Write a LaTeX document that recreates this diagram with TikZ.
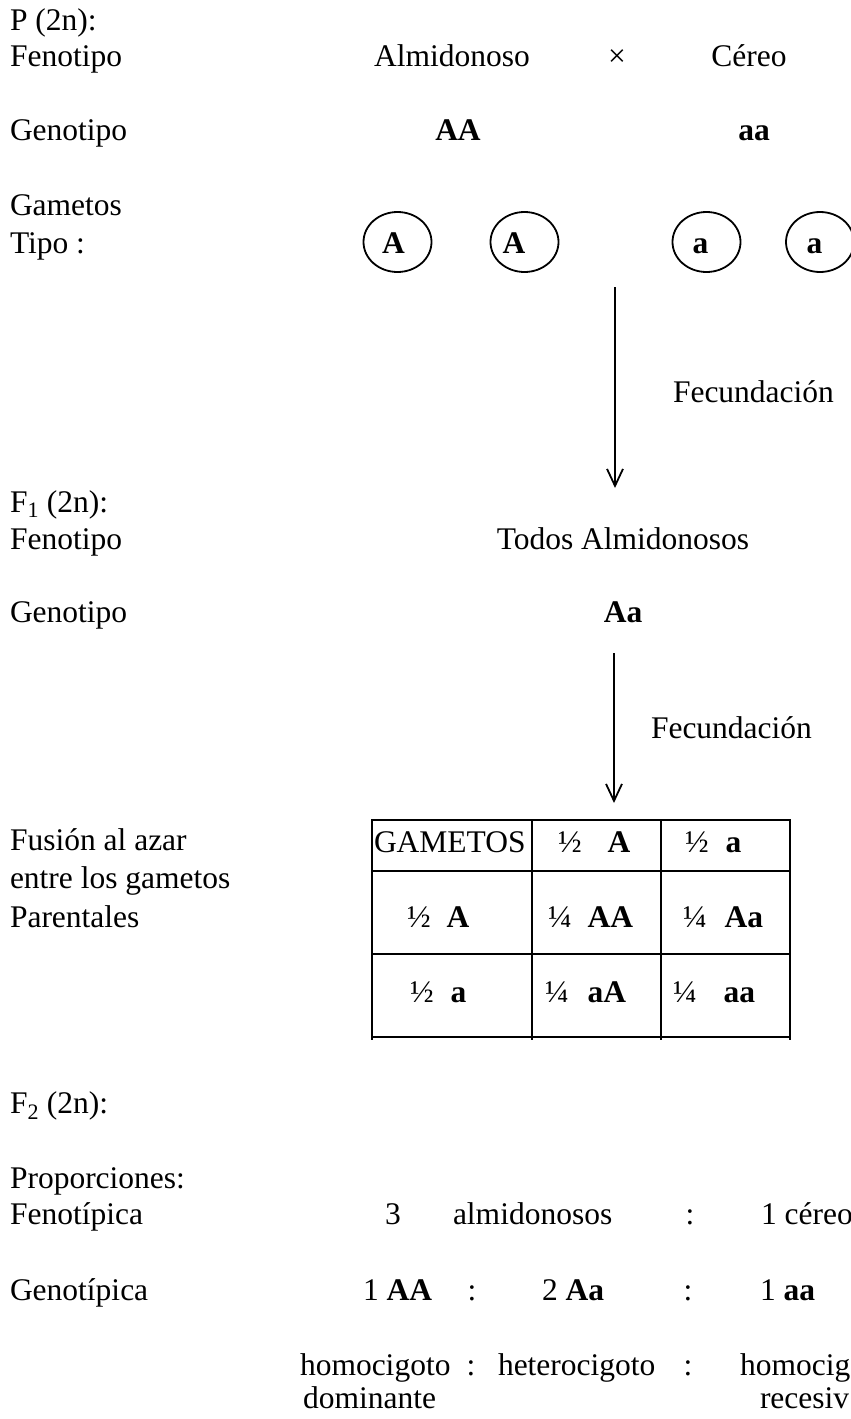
\documentclass[tikz,border=0pt]{standalone}
\usepackage{fontspec}
\setmainfont{Liberation Serif}
\usetikzlibrary{arrows.meta,shapes.geometric}

\begin{document}
\begin{tikzpicture}[x=1pt,y=-1pt,
  every node/.style={inner sep=0pt,outer sep=0pt,font=\fontsize{31.5}{37}\selectfont},
  lbl/.style={anchor=base west},
  ctr/.style={anchor=base},
  gamete/.style={draw,line width=1.8pt,ellipse,minimum width=68pt,minimum height=60pt},
  flow/.style={line width=1.8pt,-{Straight Barb[length=17pt,width=16pt,line width=1.8pt]}},
  gridline/.style={line width=2.4pt}]
\useasboundingbox (0,0) rectangle (851,1419);
\fill[white] (0,0) rectangle (851,1419);
\clip (0,0) rectangle (851,1419);

% ---- Parental generation ----
\node[lbl] (pgen) at (10,30) {P (2n):};
\node[lbl] (pfen) at (10,66) {Fenotipo};
\node[ctr] (alm) at (452,66) {Almidonoso};
\node[ctr] (cross) at (617,66) {×};
\node[ctr] (cer) at (749,66) {Céreo};
\node[lbl] (pgeno) at (10,140) {Genotipo};
\node[ctr] (AA) at (458,140) {\bfseries AA};
\node[ctr] (aa) at (754,140) {\bfseries aa};
\node[lbl] (gam) at (10,215) {Gametos};
\node[lbl] (tipo) at (10,253) {Tipo :};

% gametes
\node[gamete] (g1) at (397.5,242) {};
\node[gamete] (g2) at (524.5,242) {};
\node[gamete] (g3) at (706.5,242) {};
\node[gamete] (g4) at (820,242) {};
\node[ctr] (t1) at (393.5,253) {\bfseries A};
\node[ctr] (t2) at (514,253) {\bfseries A};
\node[ctr] (t3) at (700.5,253) {\bfseries a};
\node[ctr] (t4) at (814.5,253) {\bfseries a};

% first fertilisation
\coordinate (f1s) at (615,287);
\coordinate (f1e) at (615,488);
\draw[flow] (f1s) -- (f1e);
\node[lbl] (fec1) at (673,402) {Fecundación};

% ---- F1 ----
\node[lbl] (f1gen) at (10,512) {F\textsubscript{1} (2n):};
\node[lbl] (f1fen) at (10,549) {Fenotipo};
\node[ctr] (todos) at (623,549) {Todos Almidonosos};
\node[lbl] (f1geno) at (10,622) {Genotipo};
\node[ctr] (Aa) at (623,622) {\bfseries Aa};

% second fertilisation
\coordinate (f2s) at (614,653);
\coordinate (f2e) at (614,803);
\draw[flow] (f2s) -- (f2e);
\node[lbl] (fec2) at (651,738) {Fecundación};

% ---- Punnett square ----
\node[lbl] (fus1) at (10,850) {Fusión al azar};
\node[lbl] (fus2) at (10,888) {entre los gametos};
\node[lbl] (fus3) at (10,927) {Parentales};

\coordinate (tl) at (372,820);
\foreach \yy in {820,871,954,1037}
  \draw[gridline] (372,\yy) -- (790,\yy);
\foreach \xx in {372,532,661,790}
  \draw[gridline] (\xx,819) -- (\xx,1040);

\node[lbl] (hd) at (374,852) {GAMETOS};
\node[lbl] (hA) at (558,852) {½\hspace{26pt}\textbf{A}};
\node[lbl] (ha) at (685,852) {½\hspace{17pt}\textbf{a}};
\node[lbl] (rA) at (407,927) {½\hspace{16pt}\textbf{A}};
\node[lbl] (cAA) at (548,927) {¼\hspace{16pt}\textbf{AA}};
\node[lbl] (cAa) at (683,927) {¼\hspace{18pt}\textbf{Aa}};
\node[lbl] (ra) at (410,1002) {½\hspace{17pt}\textbf{a}};
\node[lbl] (caA) at (545,1002) {¼\hspace{19pt}\textbf{aA}};
\node[lbl] (caa) at (673,1002) {¼\hspace{27pt}\textbf{aa}};

% ---- F2 ----
\node[lbl] (f2gen) at (10,1113) {F\textsubscript{2} (2n):};
\node[lbl] (prop) at (10,1188) {Proporciones:};
\node[lbl] (pfe) at (10,1224) {Fenotípica};
\node[ctr] (n3) at (393,1224) {3};
\node[lbl] (alms) at (453,1224) {almidonosos};
\node[ctr] (c1) at (690,1224) {:};
\node[lbl] (cer1) at (761,1224) {1 céreo};

\node[lbl] (pge) at (10,1300) {Genotípica};
\node[lbl] (gAA) at (363,1300) {1 \textbf{AA}};
\node[ctr] (c2) at (472,1300) {:};
\node[lbl] (gAa) at (542,1300) {2 \textbf{Aa}};
\node[ctr] (c3) at (688,1300) {:};
\node[lbl] (gaa) at (760,1300) {1 \textbf{aa}};

\node[lbl] (hom1) at (300,1375) {homocigoto};
\node[ctr] (c4) at (471,1375) {:};
\node[lbl] (het) at (498,1375) {heterocigoto};
\node[ctr] (c5) at (688,1375) {:};
\node[lbl] (hom2) at (740,1375) {homocig};
\node[lbl] (dom) at (303,1408) {dominante};
\node[lbl] (rec) at (760,1408) {recesiv};
\end{tikzpicture}
\end{document}
